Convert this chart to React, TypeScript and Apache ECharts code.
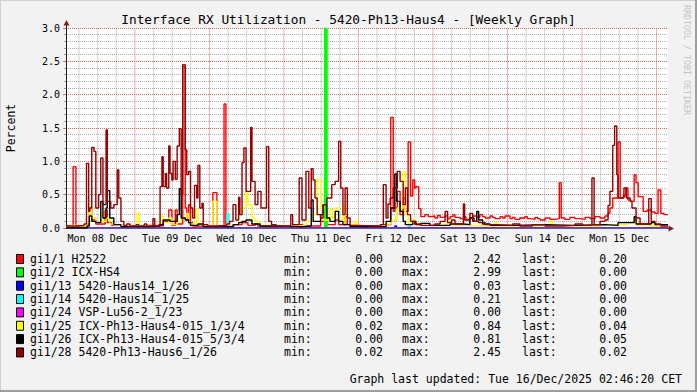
import React, { useEffect, useRef } from 'react';
import * as echarts from 'echarts';

// ---- axis definitions (hours since Mon 08 Dec 00:00) ----
const xStartHour = 1.8;
const xEndHour = 195.7;
const dayLabels = ['Mon 08 Dec', 'Tue 09 Dec', 'Wed 10 Dec', 'Thu 11 Dec', 'Fri 12 Dec', 'Sat 13 Dec', 'Sun 14 Dec', 'Mon 15 Dec'];
const yMax = 3.0;

// ---- series (step points: [hour, percent]) ----
const seriesNames = [
  'gi1/1 H2522',
  'gi1/2 ICX-HS4',
  'gi1/13 5420-Haus14_1/26',
  'gi1/14 5420-Haus14_1/25',
  'gi1/24 VSP-Lu56-2_1/23',
  'gi1/25 ICX-Ph13-Haus4-015_1/3/4',
  'gi1/26 ICX-Ph13-Haus4-015_5/3/4',
  'gi1/28 5420-Ph13-Haus6_1/26',
];
const seriesColors = ['#ff0000', '#00ff00', '#0000ff', '#00ffff', '#ff00ff', '#ffff00', '#000000', '#950000'];
const legendMin = [0.0, 0.0, 0.0, 0.0, 0.0, 0.02, 0.0, 0.02];
const legendMax = [2.42, 2.99, 0.03, 0.21, 0.0, 0.84, 0.81, 2.45];
const legendLast = [0.2, 0.0, 0.0, 0.0, 0.0, 0.04, 0.05, 0.02];

const gi1_1 = [
  [1.8, 0.03], [4.1, 0.92], [5.0, 0.03], [8.6, 0.06], [9.3, 0.3], [10.1, 0.12], [11.4, 0.06], [14.4, 0.27], [15.1, 0.08],
  [16.5, 0.04], [19.5, 0.03], [24.0, 0.02], [27.5, 0.04], [30.0, 0.03], [33.1, 0.1], [34.9, 0.27], [35.9, 0.04], [37.0, 0.27],
  [37.6, 0.06], [39.4, 2.42], [40.2, 0.3], [40.7, 0.12], [41.3, 0.35], [41.9, 0.08], [42.6, 0.03], [46.9, 0.02], [49.1, 0.53],
  [50.4, 0.03], [52.7, 1.86], [53.3, 0.03], [56.0, 0.05], [58.5, 0.08], [60.4, 0.04], [62.7, 0.06], [63.6, 0.03], [70.0, 0.02],
  [75.5, 0.05], [78.0, 0.03], [83.8, 0.1], [85.8, 0.05], [88.5, 0.12], [89.6, 0.05], [91.7, 0.17], [92.4, 0.05], [94.9, 0.03],
  [104.0, 0.05], [106.4, 1.66], [107.2, 0.25], [107.7, 0.3], [108.5, 0.55], [109.4, 0.2], [110.4, 0.45], [111.1, 0.25],
  [112.0, 1.29], [112.8, 0.48], [113.5, 0.72], [114.1, 0.6], [114.5, 0.62], [115.4, 0.29], [116.1, 0.17], [117.4, 0.2],
  [118.5, 0.17], [119.5, 0.18], [120.6, 0.15], [121.5, 0.19], [122.3, 0.16], [123.9, 0.18], [124.7, 0.14], [125.5, 0.17],
  [126.4, 0.2], [127.1, 0.16], [128.7, 0.14], [129.8, 0.17], [130.6, 0.13], [131.9, 0.15], [132.8, 0.18], [134.1, 0.16],
  [135.1, 0.2], [136.0, 0.17], [136.8, 0.15], [138.4, 0.18], [139.2, 0.16], [140.0, 0.14], [141.6, 0.17], [142.4, 0.15],
  [143.2, 0.18], [144.8, 0.14], [145.6, 0.16], [146.4, 0.13], [148.0, 0.15], [149.6, 0.17], [150.4, 0.14], [151.3, 0.13],
  [152.9, 0.16], [153.7, 0.14], [154.5, 0.12], [156.1, 0.15], [157.7, 0.13], [159.3, 0.14], [160.7, 0.68], [161.3, 0.15],
  [162.5, 0.13], [164.1, 0.16], [165.7, 0.14], [167.4, 0.13], [169.0, 0.16], [170.6, 0.14], [172.2, 0.17], [173.8, 0.15],
  [175.4, 0.18], [176.4, 0.22], [177.0, 0.3], [177.9, 0.45], [179.6, 1.29], [180.3, 0.45], [181.3, 0.48], [182.1, 0.6],
  [182.8, 0.42], [183.7, 0.4], [184.8, 0.8], [185.4, 0.68], [186.1, 0.47], [187.7, 0.25], [189.0, 0.27], [190.3, 0.24],
  [191.5, 0.22], [192.5, 0.57], [193.4, 0.22], [194.4, 0.2], [195.7, 0.2],
];
const gi1_2 = [[1.8, 0.0], [85.2, 2.99], [85.8, 0.0], [195.7, 0.0]];
const gi1_13 = [[1.8, 0.0], [107.7, 0.03], [108.3, 0.0], [195.7, 0.0]];
const gi1_14 = [[1.8, 0.0], [53.6, 0.21], [54.3, 0.0], [112.0, 0.03], [112.8, 0.0], [195.7, 0.0]];
const gi1_24 = [[1.8, 0.0], [195.7, 0.0]];
const gi1_25 = [
  [1.8, 0.02], [3.5, 0.04], [5.0, 0.03], [8.6, 0.08], [9.3, 0.32], [10.1, 0.15], [11.4, 0.08], [13.0, 0.22], [13.7, 0.1],
  [14.7, 0.15], [15.9, 0.06], [17.2, 0.04], [20.0, 0.03], [24.7, 0.22], [25.4, 0.03], [30.0, 0.04], [32.1, 0.18], [33.1, 0.08],
  [34.9, 0.15], [35.9, 0.05], [37.6, 0.1], [38.9, 0.15], [40.7, 0.22], [41.3, 0.06], [43.6, 0.28], [44.3, 0.05], [46.0, 0.03],
  [49.1, 0.4], [50.4, 0.03], [55.6, 0.05], [57.4, 0.2], [58.5, 0.3], [59.8, 0.55], [60.4, 0.35], [61.7, 0.15], [62.7, 0.1],
  [64.3, 0.04], [67.1, 0.03], [75.5, 0.04], [79.1, 0.1], [80.8, 0.2], [82.7, 0.73], [83.8, 0.3], [84.6, 0.12], [86.8, 0.28],
  [87.6, 0.15], [88.5, 0.3], [89.6, 0.12], [91.0, 0.35], [91.7, 0.05], [94.9, 0.1], [95.5, 0.03], [104.9, 0.06], [106.4, 0.12],
  [108.5, 0.3], [110.4, 0.84], [111.1, 0.2], [112.0, 0.06], [113.5, 0.12], [114.5, 0.04], [118.0, 0.03], [123.9, 0.06],
  [124.7, 0.1], [125.5, 0.04], [127.1, 0.03], [140.0, 0.08], [140.8, 0.03], [152.9, 0.04], [157.7, 0.1], [158.5, 0.03],
  [173.8, 0.05], [182.8, 0.08], [184.8, 0.12], [185.7, 0.04], [188.0, 0.06], [189.5, 0.03], [195.7, 0.04],
];
const gi1_26 = [
  [1.8, 0.0], [8.6, 0.03], [9.3, 0.18], [10.1, 0.1], [11.4, 0.08], [13.0, 0.4], [13.7, 0.15], [14.7, 0.3], [15.1, 0.56],
  [15.9, 0.15], [17.2, 0.05], [19.5, 0.02], [28.8, 0.03], [32.1, 0.05], [33.1, 0.12], [35.3, 0.1], [37.6, 0.2], [38.3, 0.59],
  [38.9, 0.15], [40.2, 0.12], [41.3, 0.08], [41.9, 0.04], [44.3, 0.06], [46.0, 0.02], [55.6, 0.05], [57.4, 0.08], [58.5, 0.1],
  [59.8, 0.12], [61.7, 0.06], [64.3, 0.03], [68.0, 0.02], [78.0, 0.03], [80.8, 0.42], [81.4, 0.1], [83.8, 0.2], [84.6, 0.35],
  [85.8, 0.15], [86.8, 0.1], [88.5, 0.25], [89.6, 0.1], [91.0, 0.05], [93.3, 0.02], [104.9, 0.1], [106.4, 0.3], [107.7, 0.81],
  [108.3, 0.4], [109.4, 0.25], [110.4, 0.1], [111.1, 0.05], [113.5, 0.1], [114.5, 0.05], [116.1, 0.07], [119.0, 0.04],
  [125.5, 0.06], [129.8, 0.05], [131.9, 0.15], [133.2, 0.1], [134.1, 0.25], [134.7, 0.12], [136.0, 0.06], [138.4, 0.04],
  [146.4, 0.05], [156.1, 0.04], [165.7, 0.05], [175.4, 0.04], [179.6, 0.08], [184.8, 0.17], [185.4, 0.06], [190.3, 0.08],
  [191.5, 0.05], [195.7, 0.05],
];
const gi1_28 = [
  [1.8, 0.03], [5.0, 0.04], [7.6, 0.06], [8.4, 0.97], [9.1, 0.25], [9.5, 0.3], [10.1, 1.21], [10.8, 1.15], [11.4, 0.3],
  [12.3, 0.5], [13.0, 1.05], [13.7, 0.35], [14.7, 1.47], [15.1, 0.4], [16.2, 0.3], [17.2, 0.35], [18.3, 0.87], [18.8, 0.45],
  [19.5, 0.1], [20.4, 0.04], [21.4, 0.06], [22.4, 0.03], [24.4, 0.05], [25.2, 0.03], [27.0, 0.06], [27.8, 0.03], [29.8, 0.14],
  [30.4, 0.03], [31.7, 0.05], [32.1, 0.62], [32.7, 1.07], [33.1, 0.62], [33.8, 0.82], [34.2, 0.6], [34.9, 1.23], [35.3, 0.82],
  [35.9, 0.72], [36.3, 1.0], [37.0, 0.73], [37.6, 1.23], [38.3, 1.49], [38.9, 0.5], [39.4, 2.45], [40.2, 1.17], [40.7, 0.8],
  [41.3, 0.85], [41.9, 0.3], [42.6, 0.15], [43.2, 0.64], [43.9, 0.45], [44.3, 0.94], [44.9, 0.3], [45.6, 0.37], [46.0, 0.05],
  [47.5, 0.03], [50.4, 0.04], [53.6, 0.06], [54.5, 0.1], [55.6, 0.35], [56.5, 0.12], [57.4, 0.46], [57.8, 0.2], [58.5, 0.98],
  [59.1, 1.2], [59.8, 0.55], [61.3, 1.51], [61.7, 0.7], [62.7, 0.35], [63.6, 0.55], [64.6, 0.3], [66.4, 1.22], [67.1, 0.1],
  [68.0, 0.05], [69.5, 0.03], [74.2, 0.2], [74.8, 0.05], [76.9, 0.75], [77.8, 0.12], [79.1, 0.85], [80.0, 0.3], [80.8, 0.89],
  [81.4, 0.72], [82.0, 0.45], [82.7, 0.2], [83.8, 0.15], [84.6, 0.35], [85.8, 0.45], [87.4, 0.65], [88.5, 0.7], [89.6, 1.3],
  [90.3, 0.6], [91.0, 0.2], [91.7, 0.6], [92.4, 0.15], [93.3, 0.04], [95.5, 0.03], [103.0, 0.05], [104.0, 0.65], [104.9, 0.15],
  [105.5, 0.36], [106.2, 0.45], [107.2, 0.6], [108.5, 0.85], [109.4, 0.7], [110.4, 0.35], [111.1, 0.6], [111.8, 0.2],
  [112.8, 0.1], [114.1, 0.06], [116.1, 0.04], [120.6, 0.06], [122.3, 0.1], [123.9, 0.25], [124.7, 0.08], [126.0, 0.12],
  [127.1, 0.06], [129.8, 0.36], [130.2, 0.12], [131.9, 0.22], [132.8, 0.1], [134.7, 0.08], [136.8, 0.05], [140.0, 0.04],
  [145.6, 0.06], [148.0, 0.03], [152.0, 0.05], [156.1, 0.03], [161.3, 0.04], [165.7, 0.06], [168.2, 0.04], [171.2, 0.75],
  [171.9, 0.05], [173.8, 0.1], [175.4, 0.12], [176.4, 0.34], [177.0, 0.55], [177.9, 1.24], [178.5, 1.53], [179.2, 0.8],
  [179.6, 0.45], [180.9, 0.45], [181.5, 0.6], [182.3, 0.45], [183.5, 0.4], [184.1, 0.3], [185.4, 0.15], [186.7, 0.06],
  [189.5, 0.44], [190.3, 0.1], [191.5, 0.06], [193.4, 0.03], [195.7, 0.02],
];
const seriesData = [gi1_1, gi1_2, gi1_13, gi1_14, gi1_24, gi1_25, gi1_26, gi1_28];

const FONT = '"DejaVu Sans Mono", monospace';
const MINOR_GRID = 'rgba(143,143,143,0.7)';
const MAJOR_GRID = 'rgba(222,79,79,0.7)';
const MINOR_VGRID = 'rgba(143,143,143,0.4)';
const MAJOR_VGRID = 'rgba(222,79,79,0.45)';
const vGridHours = [6, 12, 18, 24, 30, 36, 42, 48, 54, 60, 66, 72, 78, 84, 90, 96, 102, 108, 114, 120, 126, 132, 138, 144, 150, 156, 162, 168, 174, 180, 186, 192];

export default function App() {
  const ref = useRef<HTMLDivElement>(null);
  useEffect(() => {
    const el = ref.current;
    if (!el) return;
    const chart = echarts.init(el, null, { renderer: 'svg' });

    const vGrid = vGridHours.map((h) => [h, h % 24 === 0 ? 1 : 0]);
    const labelHours = dayLabels.map((_, i) => 12 + 24 * i);

    const vGridSeries = {
      type: 'custom',
      z: 1,
      data: vGrid,
      renderItem: (params: any, api: any) => {
        const h = api.value(0);
        const major = api.value(1) === 1;
        const p0 = api.coord([h, 0]);
        const p1 = api.coord([h, yMax]);
        return {
          type: 'line',
          shape: { x1: p0[0], y1: p0[1], x2: p1[0], y2: p1[1] },
          style: { stroke: major ? MAJOR_VGRID : MINOR_VGRID, lineWidth: 1 },
        };
      },
    };

    const lineSeries = seriesData.map((d, i) => ({
      name: seriesNames[i],
      type: 'line',
      step: 'end',
      data: d,
      symbol: 'none',
      z: 3 + i,
      lineStyle: { color: i === 4 ? '#a000a0' : seriesColors[i], width: i === 1 ? 2 : 1.4 },
      itemStyle: { color: seriesColors[i] },
    }));

    const rowY = (i: number) => 259 + i * 13.35;
    const legendGraphics: any[] = [];
    seriesNames.forEach((n, i) => {
      const y = rowY(i);
      legendGraphics.push(
        { type: 'rect', shape: { x: 16.5, y: y - 4.5, width: 7, height: 9 }, style: { fill: seriesColors[i], stroke: '#000', lineWidth: 1 } },
        { type: 'text', x: 30, y, style: { text: n, font: `11.5px ${FONT}`, fill: '#000', verticalAlign: 'middle', align: 'left' } },
        { type: 'text', x: 284, y, style: { text: 'min:', font: `11.5px ${FONT}`, fill: '#000', verticalAlign: 'middle', align: 'left' } },
        { type: 'text', x: 383, y, style: { text: legendMin[i].toFixed(2), font: `11.5px ${FONT}`, fill: '#000', verticalAlign: 'middle', align: 'right' } },
        { type: 'text', x: 402, y, style: { text: 'max:', font: `11.5px ${FONT}`, fill: '#000', verticalAlign: 'middle', align: 'left' } },
        { type: 'text', x: 501, y, style: { text: legendMax[i].toFixed(2), font: `11.5px ${FONT}`, fill: '#000', verticalAlign: 'middle', align: 'right' } },
        { type: 'text', x: 522, y, style: { text: 'last:', font: `11.5px ${FONT}`, fill: '#000', verticalAlign: 'middle', align: 'left' } },
        { type: 'text', x: 627, y, style: { text: legendLast[i].toFixed(2), font: `11.5px ${FONT}`, fill: '#000', verticalAlign: 'middle', align: 'right' } },
      );
    });

    const option: any = {
      animation: false,
      backgroundColor: '#f2f2f2',
      textStyle: { fontFamily: FONT },
      grid: { left: 66, top: 28, width: 602, height: 200, show: true, backgroundColor: '#ffffff', borderWidth: 0, containLabel: false },
      xAxis: {
        type: 'value',
        min: xStartHour,
        max: xEndHour,
        axisLine: { show: true, lineStyle: { color: '#1f1f1f', width: 1 } },
        axisTick: { show: false },
        splitLine: { show: false },
        axisLabel: {
          customValues: labelHours,
          formatter: (v: number) => dayLabels[Math.round((v - 12) / 24)] ?? '',
          fontFamily: FONT,
          fontSize: 10,
          color: '#000',
          margin: 5,
        },
      },
      yAxis: [
        {
          type: 'value',
          position: 'left',
          min: 0,
          max: yMax,
          interval: 0.1,
          axisLine: { show: false },
          axisTick: { show: true, length: 2, lineStyle: { color: '#a0a0a0' } },
          axisLabel: { show: false },
          splitLine: { show: true, lineStyle: { type: [1, 1], color: MINOR_GRID, width: 1 } },
        },
        {
          type: 'value',
          position: 'left',
          offset: 0,
          min: 0,
          max: yMax,
          interval: 0.5,
          axisLine: { show: true, onZero: false, lineStyle: { color: '#1f1f1f', width: 1 } },
          axisTick: { show: true, length: 3, lineStyle: { color: MAJOR_GRID } },
          axisLabel: { formatter: (v: number) => v.toFixed(1), fontFamily: FONT, fontSize: 10, color: '#000', margin: 6 },
          splitLine: { show: true, lineStyle: { type: [1, 1], color: MAJOR_GRID, width: 1 } },
        },
      ],
      series: [vGridSeries, ...lineSeries],
      graphic: [
        // frame
        { type: 'rect', shape: { x: 0, y: 0, width: 697, height: 1 }, style: { fill: '#cfcfcf' }, silent: true },
        { type: 'rect', shape: { x: 0, y: 0, width: 1, height: 392 }, style: { fill: '#cfcfcf' }, silent: true },
        { type: 'rect', shape: { x: 695, y: 0, width: 2, height: 392 }, style: { fill: '#9e9e9e' }, silent: true },
        { type: 'rect', shape: { x: 0, y: 390, width: 697, height: 2 }, style: { fill: '#9e9e9e' }, silent: true },
        // title
        { type: 'text', x: 348.5, y: 19, style: { text: 'Interface RX Utilization - 5420-Ph13-Haus4 - [Weekly Graph]', font: `12.8px ${FONT}`, fill: '#000', align: 'center', verticalAlign: 'middle' } },
        // y axis title
        { type: 'text', x: 11, y: 128, rotation: Math.PI / 2, style: { text: 'Percent', font: `11.5px ${FONT}`, fill: '#000', align: 'center', verticalAlign: 'middle' } },
        // watermark
        { type: 'text', x: 691, y: 5, rotation: -Math.PI / 2, style: { text: 'RRDTOOL / TOBI OETIKER', font: `8.3px ${FONT}`, fill: '#c4c4c4', align: 'left', verticalAlign: 'top' } },
        // axis extensions + arrows
        { type: 'line', z: 30, shape: { x1: 66.5, y1: 28, x2: 66.5, y2: 24 }, style: { stroke: '#1f1f1f', lineWidth: 1 } },
        { type: 'polygon', z: 30, shape: { points: [[63.5, 25.5], [69.5, 25.5], [66.5, 20]] }, style: { fill: '#801f1f' } },
        { type: 'line', z: 30, shape: { x1: 668, y1: 228.5, x2: 670, y2: 228.5 }, style: { stroke: '#1f1f1f', lineWidth: 1 } },
        { type: 'polygon', z: 30, shape: { points: [[668.5, 225.5], [668.5, 231.5], [674, 228.5]] }, style: { fill: '#801f1f' } },
        ...legendGraphics,
        { type: 'text', x: 682, y: 379, style: { text: 'Graph last updated: Tue 16/Dec/2025 02:46:20 CET', font: `11.5px ${FONT}`, fill: '#000', align: 'right', verticalAlign: 'middle' } },
      ],
    };
    chart.setOption(option);
    return () => chart.dispose();
  }, []);
  return <div ref={ref} style={{ position: 'absolute', left: 0, top: 0, width: 697, height: 392 }} />;
}
